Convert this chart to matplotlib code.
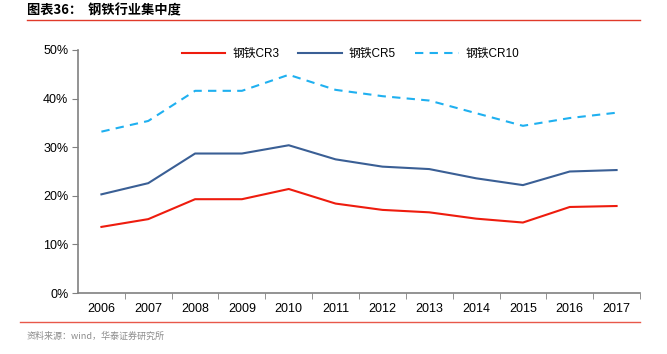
import matplotlib.pyplot as plt
from matplotlib.lines import Line2D

plt.rcParams['font.family'] = ['Noto Sans CJK SC', 'DejaVu Sans']

years = ['2006', '2007', '2008', '2009', '2010', '2011', '2012', '2013', '2014', '2015', '2016', '2017']
cr3 = [13.6, 15.2, 19.3, 19.3, 21.4, 18.4, 17.1, 16.6, 15.3, 14.5, 17.7, 17.9]
cr5 = [20.3, 22.6, 28.7, 28.7, 30.4, 27.5, 26.0, 25.5, 23.6, 22.2, 25.0, 25.3]
cr10 = [33.2, 35.4, 41.6, 41.6, 44.9, 41.8, 40.5, 39.6, 37.0, 34.4, 36.0, 37.1]

fig = plt.figure(figsize=(6.67, 3.54), dpi=100)
ax = fig.add_axes([78 / 667, 1 - 293 / 354, (640 - 78) / 667, (293 - 50) / 354])

x = range(len(years))
ax.plot(x, cr3, color='#ee1c0e', lw=1.5, label='钢铁CR3')
ax.plot(x, cr5, color='#3a5f95', lw=1.5, label='钢铁CR5')
ax.plot(x, cr10, color='#1fb0f0', lw=1.5, ls=(0, (4, 3)), label='钢铁CR10')

ax.set_xlim(-0.5, len(years) - 0.5)
ax.set_ylim(0, 50)
ax.set_yticks([0, 10, 20, 30, 40, 50])
ax.set_yticklabels(['0%', '10%', '20%', '30%', '40%', '50%'], fontsize=9, family='Liberation Sans')
ax.set_xticks(list(x))
ax.set_xticklabels(years, fontsize=9, family='Liberation Sans')
ax.set_xticks([i + 0.5 for i in x], minor=True)
ax.tick_params(axis='x', which='major', length=0, pad=7)
ax.tick_params(axis='x', which='minor', length=4, color='#808080', direction='out')
ax.tick_params(axis='y', length=4, color='#808080', pad=3)

for s in ['top', 'right']:
    ax.spines[s].set_visible(False)
for s in ['left', 'bottom']:
    ax.spines[s].set_color('#808080')
    ax.spines[s].set_linewidth(1.2)

ax.legend(loc='upper center', bbox_to_anchor=(0.485, 1.05), ncol=3, frameon=False,
          prop={'family': ['Liberation Sans', 'Noto Sans CJK SC'], 'size': 8.5},
          handlelength=3.7, columnspacing=1.6, handletextpad=0.6)

fig.text(27 / 667, 1 - 10 / 354, '图表36：  钢铁行业集中度', fontsize=9.5, fontweight='bold',
         va='center', ha='left')
fig.add_artist(Line2D([27 / 667, 640 / 667], [1 - 19.5 / 354] * 2, color='#e03a2a', lw=1))
fig.add_artist(Line2D([20 / 667, 640 / 667], [1 - 322 / 354] * 2, color='#e8584a', lw=1))
fig.text(27 / 667, 1 - 336 / 354, '资料来源：wind，华泰证券研究所', fontsize=6.5, color='#8c8c8c',
         va='center', ha='left')

fig.savefig('out.png', dpi=100)
